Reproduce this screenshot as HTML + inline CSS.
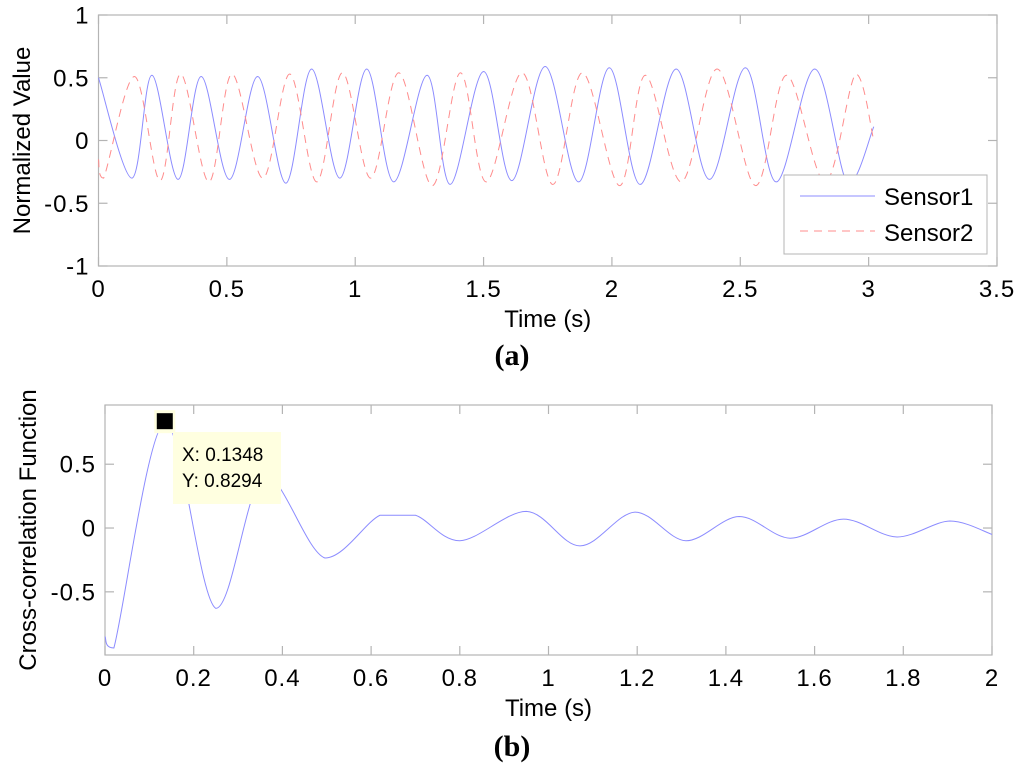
<!DOCTYPE html>
<html><head><meta charset="utf-8"><style>
body{margin:0;background:#fff;}
svg{display:block;font-family:"Liberation Sans",Arial,sans-serif;}
</style></head><body>
<svg id="fig" width="1024" height="776" viewBox="0 0 1024 776" xmlns="http://www.w3.org/2000/svg">
<rect width="1024" height="776" fill="#fff"/>
<g id="top"></g>
<g id="bot"></g>
<text x="512" y="365" text-anchor="middle" font-family="Liberation Serif,serif" font-weight="bold" font-size="30">(a)</text>
<text x="512" y="756" text-anchor="middle" font-family="Liberation Serif,serif" font-weight="bold" font-size="30">(b)</text>
</svg>
<script>
// Top chart data
const s1T=[0,0.13,0.208,0.31,0.40,0.51,0.62,0.73,0.83,0.94,1.045,1.15,1.28,1.37,1.50,1.61,1.74,1.87,1.99,2.11,2.25,2.38,2.52,2.64,2.79,2.92,3.02];
const s1V=[0.5,-0.3,0.52,-0.31,0.51,-0.31,0.51,-0.34,0.57,-0.3,0.57,-0.33,0.52,-0.35,0.55,-0.32,0.59,-0.33,0.58,-0.35,0.57,-0.31,0.58,-0.33,0.57,-0.35,0.11];
const s2T=[0,0.02,0.14,0.24,0.32,0.43,0.52,0.64,0.745,0.85,0.95,1.06,1.17,1.30,1.41,1.51,1.65,1.77,1.885,2.03,2.13,2.27,2.41,2.56,2.68,2.83,2.95,3.02];
const s2V=[-0.15,-0.3,0.51,-0.32,0.53,-0.33,0.53,-0.3,0.53,-0.33,0.54,-0.3,0.54,-0.36,0.54,-0.33,0.54,-0.35,0.54,-0.36,0.52,-0.33,0.57,-0.36,0.52,-0.33,0.53,0.0];
const topXTicks=[0,0.5,1,1.5,2,2.5,3,3.5];
const topXLabels=["0","0.5","1","1.5","2","2.5","3","3.5"];
const topYTicks=[-1,-0.5,0,0.5,1];
const topYLabels=["-1","-0.5","0","0.5","1"];
// Bottom chart data
const ccT=[0,0.02,0.1348,0.25,0.36,0.496,0.62,0.70,0.80,0.95,1.071,1.195,1.31,1.43,1.545,1.665,1.786,1.905,2.0];
const ccV=[-0.85,-0.94,0.8294,-0.63,0.42,-0.235,0.10,0.10,-0.10,0.13,-0.14,0.125,-0.10,0.09,-0.08,0.07,-0.07,0.055,-0.05];
const botXTicks=[0,0.2,0.4,0.6,0.8,1,1.2,1.4,1.6,1.8,2];
const botXLabels=["0","0.2","0.4","0.6","0.8","1","1.2","1.4","1.6","1.8","2"];
const botYTicks=[-0.5,0,0.5];
const botYLabels=["-0.5","0","0.5"];
const markerX=[0.1348], markerY=[0.8294];

const NS="http://www.w3.org/2000/svg";
const FS=24;
function mk(p,tag,attrs){const e=document.createElementNS(NS,tag);for(const k in attrs)e.setAttribute(k,attrs[k]);p.appendChild(e);return e;}
function clamp(v,a,b){const lo=Math.min(a,b),hi=Math.max(a,b);return Math.max(lo,Math.min(hi,v));}
function smooth(pts){let d="M"+pts[0][0]+","+pts[0][1];for(let i=0;i<pts.length-1;i++){const p0=pts[Math.max(0,i-1)],p1=pts[i],p2=pts[i+1],p3=pts[Math.min(pts.length-1,i+2)];const c1x=p1[0]+(p2[0]-p0[0])/6,c1y=clamp(p1[1]+(p2[1]-p0[1])/6,p1[1],p2[1]),c2x=p2[0]-(p3[0]-p1[0])/6,c2y=clamp(p2[1]-(p3[1]-p1[1])/6,p1[1],p2[1]);d+=" C"+c1x+","+c1y+" "+c2x+","+c2y+" "+p2[0]+","+p2[1];}return d;}

function axes(g,L,T,R,B,xMin,xMax,yMin,yMax,xt,xl,yt,yl,ytitle,labelX){
 const sx=v=>L+(v-xMin)/(xMax-xMin)*(R-L), sy=v=>B-(v-yMin)/(yMax-yMin)*(B-T);
 const box=mk(g,"rect",{x:L,y:T,width:R-L,height:B-T,fill:"none",stroke:"#b4b4b4","stroke-width":1.2});
 
 
 xt.forEach((v,i)=>{const x=sx(v);
  mk(g,"line",{x1:x,y1:B,x2:x,y2:B-9,stroke:"#b4b4b4","stroke-width":1.2});
  mk(g,"line",{x1:x,y1:T,x2:x,y2:T+9,stroke:"#b4b4b4","stroke-width":1.2});
  const t=mk(g,"text",{x:x,y:B+31,"text-anchor":"middle","font-size":FS,"letter-spacing":1});t.textContent=xl[i];
  
  
 });
 yt.forEach((v,i)=>{const y=sy(v);
  mk(g,"line",{x1:L,y1:y,x2:L+9,y2:y,stroke:"#b4b4b4","stroke-width":1.2});
  mk(g,"line",{x1:R,y1:y,x2:R-9,y2:y,stroke:"#b4b4b4","stroke-width":1.2});
  const t=mk(g,"text",{x:L-9,y:y+8.5,"text-anchor":"end","font-size":FS,"letter-spacing":1});t.textContent=yl[i];
  
  
 });
 const xtEl=mk(g,"text",{x:(L+R)/2,y:B+61,"text-anchor":"middle","font-size":FS});xtEl.textContent="Time (s)";
 
 
 const cy=(T+B)/2;
 const ytEl=mk(g,"text",{x:labelX,y:cy,"text-anchor":"middle","font-size":FS,transform:"rotate(-90 "+labelX+" "+cy+")"});ytEl.textContent=ytitle;
 
 
 return {sx,sy};
}

// top
const gt=document.getElementById("top");
const A=axes(gt,98.5,15,997,266,0,3.5,-1,1,topXTicks,topXLabels,topYTicks,topYLabels,"Normalized Value",30);
const p1=mk(gt,"path",{d:smooth(s1T.map((t,i)=>[A.sx(t),A.sy(s1V[i])])),fill:"none",stroke:"#8c8cff","stroke-width":1});


const p2=mk(gt,"path",{d:smooth(s2T.map((t,i)=>[A.sx(t),A.sy(s2V[i])])),fill:"none",stroke:"#ff8c8c","stroke-width":1,"stroke-dasharray":"8,6"});


const lg=mk(gt,"g",{});


mk(lg,"rect",{x:784,y:175,width:203,height:79,fill:"#fff",stroke:"#b4b4b4","stroke-width":1});
mk(lg,"line",{x1:800,y1:196,x2:875,y2:196,stroke:"#8c8cff","stroke-width":1});
mk(lg,"line",{x1:800,y1:231,x2:875,y2:231,stroke:"#ff8c8c","stroke-width":1,"stroke-dasharray":"8,6"});
const l1=mk(lg,"text",{x:884,y:205,"font-size":FS});l1.textContent="Sensor1";


const l2=mk(lg,"text",{x:884,y:241,"font-size":FS});l2.textContent="Sensor2";



// bottom
const gb=document.getElementById("bot");
const Bx=axes(gb,105,405,992,655,0,2,-0.995,0.964,botXTicks,botXLabels,botYTicks,botYLabels,"Cross-correlation Function",36);
const p3=mk(gb,"path",{d:smooth(ccT.map((t,i)=>[Bx.sx(t),Bx.sy(ccV[i])])),fill:"none",stroke:"#8c8cff","stroke-width":1});


const mx=Bx.sx(markerX[0]), my=Bx.sy(markerY[0]);
const halo=mk(gb,"rect",{x:mx-10.5,y:my-12,width:21,height:23,fill:"#ffffe0"});


const mark=mk(gb,"rect",{x:mx-8,y:my-9,width:16,height:16,fill:"#000"});


const tip=mk(gb,"g",{});


mk(tip,"rect",{x:173,y:432,width:108,height:72,fill:"#ffffe0"});
const tx=mk(tip,"text",{x:182,y:461,"font-size":19});tx.textContent="X: 0.1348";


const ty=mk(tip,"text",{x:182,y:487,"font-size":19});ty.textContent="Y: 0.8294";


</script>
</body></html>
